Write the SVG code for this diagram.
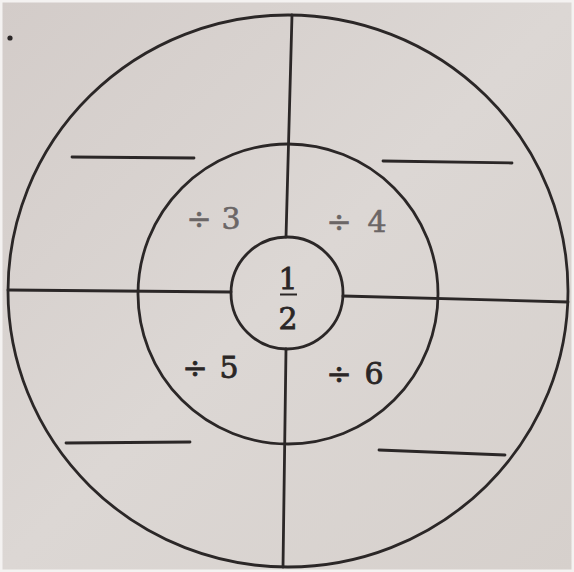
<svg xmlns="http://www.w3.org/2000/svg" width="574" height="572" viewBox="0 0 574 572">
<defs>
<style>
.ln{stroke:#2b2727;stroke-width:2.8;fill:none;stroke-linecap:round}
.t{font-family:"DejaVu Serif",serif;font-size:30px;text-anchor:middle}
.light{fill:#6b6666;stroke:#6b6666;stroke-width:0.6}
.dark{fill:#2a2626;stroke:#2a2626;stroke-width:0.8}
</style>
<linearGradient id="bg" x1="0" y1="0" x2="1" y2="1">
<stop offset="0" stop-color="#d3ccc9"/>
<stop offset="0.5" stop-color="#dcd7d4"/>
<stop offset="1" stop-color="#d6d0cc"/>
</linearGradient>
</defs>
<rect x="0" y="0" width="574" height="572" fill="url(#bg)"/>
<rect x="1" y="1" width="572" height="570" fill="none" stroke="#f4f2f1" stroke-width="3"/>
<circle cx="10" cy="38" r="2.6" fill="#2a2626"/>
<g id="rings">
<ellipse class="ln" cx="288" cy="291" rx="280" ry="276"/>
<circle class="ln" cx="288" cy="294" r="150"/>
<circle class="ln" cx="287" cy="293" r="56"/>
</g>
<g id="dividers">
<line class="ln" x1="292" y1="15" x2="286" y2="237"/>
<line class="ln" x1="286" y1="349" x2="283" y2="567"/>
<line class="ln" x1="8" y1="290" x2="231" y2="292"/>
<line class="ln" x1="343" y1="296" x2="568" y2="302"/>
</g>
<g id="blanks">
<line class="ln" x1="72" y1="157" x2="194" y2="158"/>
<line class="ln" x1="383" y1="161" x2="512" y2="163"/>
<line class="ln" x1="66" y1="443" x2="190" y2="442"/>
<line class="ln" x1="379" y1="450" x2="505" y2="455"/>
</g>
<g id="center">
<text class="t dark" x="288" y="289">1</text>
<line x1="280" y1="294.5" x2="297" y2="294.5" stroke="#2b2727" stroke-width="2"/>
<text class="t dark" x="288" y="329">2</text>
</g>
<g id="q3"><text class="t light" y="229"><tspan x="199">÷</tspan><tspan x="231">3</tspan></text></g>
<g id="q4"><text class="t light" y="232"><tspan x="339">÷</tspan><tspan x="377">4</tspan></text></g>
<g id="q5"><text class="t dark" y="378"><tspan x="195">÷</tspan><tspan x="229">5</tspan></text></g>
<g id="q6"><text class="t dark" y="384"><tspan x="339">÷</tspan><tspan x="374">6</tspan></text></g>
</svg>
